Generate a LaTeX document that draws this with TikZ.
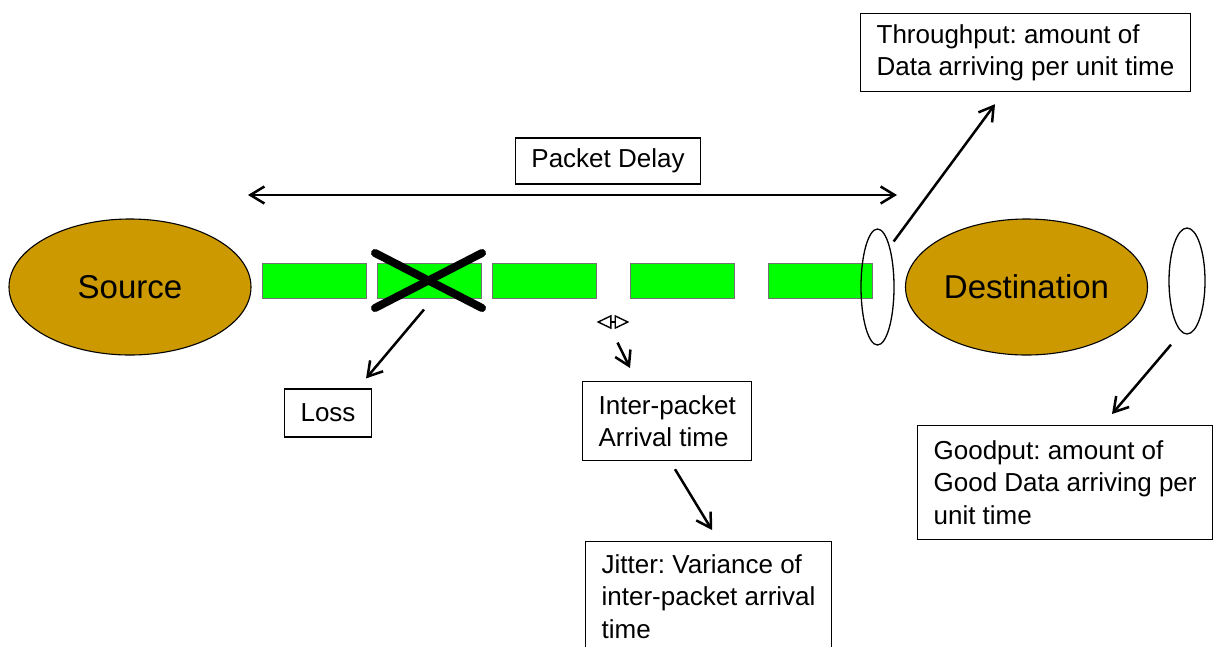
\documentclass[tikz,border=0pt]{standalone}
\usepackage{fontspec}
\setmainfont{Liberation Sans}
\usetikzlibrary{shapes.geometric,arrows.meta}
\definecolor{hostgold}{HTML}{CC9900}
\definecolor{pktgreen}{HTML}{00FF00}
\tikzset{barb/.tip={Straight Barb[length=14pt,width=17pt]}}
\frenchspacing

\begin{document}
\begin{tikzpicture}[
        x=1pt, y=-1pt,
        hub/.style={draw, ellipse, fill=hostgold, line width=1.1pt, minimum width=242pt, minimum height=136pt, inner sep=0pt, font=\fontsize{33}{40}\selectfont},
        pkt/.style={draw=black!55, fill=pktgreen, line width=1pt, minimum width=104pt, minimum height=35pt, inner sep=0pt},
        win/.style={draw, ellipse, line width=1.3pt, inner sep=0pt},
        box/.style={draw, line width=1.2pt, align=left, inner xsep=16pt, font=\fontsize{26}{32.5}\selectfont},
        arr/.style={line width=2.5pt, -barb},
        cross/.style={line width=8pt, line cap=round}
        ]
        \useasboundingbox (0,0) rectangle (1222,646);
        \clip (0,0) rectangle (1222,646);

        % end hosts
        \node[hub] (src) at (130,287) {Source};
        \node[hub] (dst) at (1026.5,287) {Destination};

        % packets on the link
        \foreach \i/\x in {1/314,2/429,3/544,4/682,5/820}
            \node[pkt] (pkt\i) at (\x,280.5) {};

        % dropped packet
        \draw[cross] ([shift={(-54,-27.5)}]pkt2.center) -- ([shift={(53,27.5)}]pkt2.center);
        \draw[cross] ([shift={(-54,27.5)}]pkt2.center) -- ([shift={(53,-27.5)}]pkt2.center);

        % observation windows
        \node[win, minimum width=33pt, minimum height=116pt] (win1) at (877.5,287) {};
        \node[win, minimum width=36pt, minimum height=106pt] (win2) at (1187,281) {};

        % metric boxes
        \node[box, minimum height=46pt] (delay) at (608,161) {Packet Delay};
        \node[box, minimum height=78pt, anchor=north west] (thru) at (860,13) {Throughput: amount of\\Data arriving per unit time};
        \node[box, minimum height=48pt] (loss) at (328,413) {Loss};
        \node[box, minimum height=79pt, anchor=north west] (ipa) at (582,381) {Inter-packet\\Arrival time};
        \node[box, inner ysep=13pt, anchor=north west] (jitter) at (585,541) {Jitter: Variance of\\inter-packet arrival\\time};
        \node[box, minimum height=114pt, anchor=north west] (good) at (917,425) {Goodput: amount of\\Good Data arriving per\\unit time};

        % end to end delay
        \coordinate (delay l) at (248,195);
        \coordinate (delay r) at (897,195);
        \draw[line width=2.5pt, barb-barb] (delay l) -- (delay r);

        % gap between two packets
        \draw[line width=1.4pt, {Triangle[open,length=15pt,width=14pt]}-{Triangle[open,length=15pt,width=14pt]}]
            ([shift={(0,41.5)}]pkt3.east) -- ([shift={(0,41.5)}]pkt4.west);

        % pointers
        \draw[arr] ([shift={(-5,11)}]pkt2.south) -- ([shift={(-6,-10)}]loss.north east);
        \draw[arr] ([shift={(21,62)}]pkt3.east) -- ([shift={(48,-13)}]ipa.north west);
        \draw[arr] ([shift={(93,8)}]ipa.south west) -- ([shift={(127,-11)}]jitter.north west);
        \draw[arr] ([shift={(4,-4)}]win1.north east) -- ([shift={(135,12)}]thru.south west);
        \draw[arr] ([shift={(-16,10)}]win2.south) -- ([shift={(195,-11)}]good.north west);
\end{tikzpicture}
\end{document}
